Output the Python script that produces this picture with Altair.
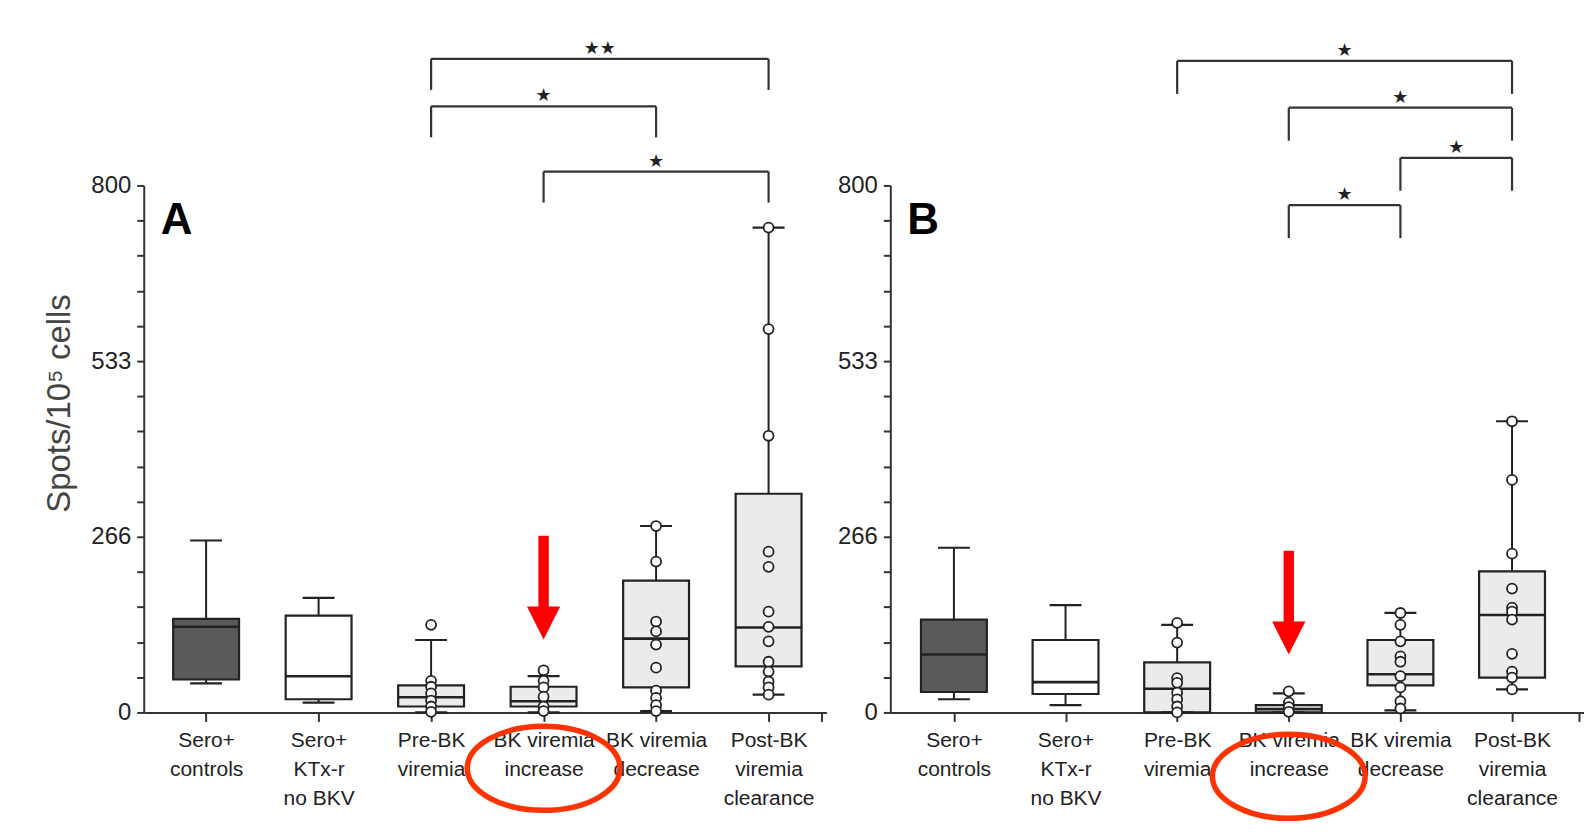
import json
import altair as alt
import pandas as pd

# ---------------- data ----------------
cat_lines = [
    ["Sero+", "controls"],
    ["Sero+", "KTx-r", "no BKV"],
    ["Pre-BK", "viremia"],
    ["BK viremia", "increase"],
    ["BK viremia", "decrease"],
    ["Post-BK", "viremia", "clearance"],
]
box_fills = ["#5a5a5a", "#ffffff", "#ebebeb", "#ebebeb", "#ebebeb", "#ebebeb"]

# Panel A (Spots/10^5 cells)
A_lo = [44, 15, 0, 0, 2, 27]
A_q1 = [50, 20, 9, 9, 38, 70]
A_med = [130, 55, 23, 17, 112, 129]
A_q3 = [142, 147, 41, 39, 200, 332]
A_hi = [261, 174, 110, 55, 283, 736]
A_points = {
    2: [133, 48, 39, 29, 18, 9, 1],
    3: [64, 48, 38, 24, 9, 2],
    4: [283, 229, 138, 123, 103, 68, 33, 22, 11, 2],
    5: [736, 582, 420, 244, 221, 153, 130, 108, 77, 62, 47, 38, 27],
}
A_brackets = [(2, 5, 992, "★★"), (2, 4, 920, "★"), (3, 5, 821, "★")]

# Panel B
B_lo = [20, 11, 0, 0, 3, 35]
B_q1 = [31, 28, 0, 0, 41, 53]
B_med = [88, 46, 36, 5, 58, 148]
B_q3 = [141, 110, 76, 11, 110, 214]
B_hi = [250, 163, 133, 29, 151, 442]
B_points = {
    2: [136, 106, 52, 45, 30, 20, 9, 0],
    3: [32, 15, 8, 1],
    4: [151, 133, 108, 85, 77, 55, 38, 17, 6],
    5: [442, 353, 241, 188, 159, 153, 141, 89, 62, 53, 35],
}
B_brackets = [(2, 5, 989, "★"), (3, 5, 918, "★"), (4, 5, 842, "★"), (3, 4, 770, "★")]

highlight = "BK viremia increase"
y_ticks = [round(k * 800 / 15, 6) for k in range(15)] + [800]

# ---------------- style ----------------
SANS = "Liberation Sans, Arial, sans-serif"
INK = "#222222"
BOX_W = 66

arrow_path = "M -0.1 -1 L 0.1 -1 L 0.1 0.365 L 0.32 0.365 L 0 1 L -0.32 0.365 L -0.1 0.365 Z"
ellipse_path = "M -1 0 A 1 0.55 0 1 1 1 0 A 1 0.55 0 1 1 -1 0 Z"

labels_js = json.dumps(cat_lines)
hl_idx = [" ".join(c) for c in cat_lines].index(highlight)


def panel(lo, q1, med, q3, hi, pts, brackets, letter, xdom, width, show_title,
          arrow_y, ellipse_y, drop):
    box_df = pd.DataFrame({
        "idx": list(range(6)), "lo": lo, "q1": q1, "med": med, "q3": q3,
        "hi": hi, "fill": box_fills,
    })
    pt_df = pd.DataFrame([{"idx": k, "v": v} for k, vs in pts.items() for v in vs])
    br_df = pd.DataFrame([{"a": a, "b": b, "level": lv, "label": lb,
                           "mid": (a + b) / 2}
                          for a, b, lv, lb in brackets])
    leg_df = pd.DataFrame([{"x": x, "top": lv, "bot": lv - drop}
                           for a, b, lv, lb in brackets for x in (a, b)])
    hl_df = pd.DataFrame({"idx": [hl_idx]})

    xscale = alt.Scale(domain=xdom, nice=False, zero=False)
    yscale = alt.Scale(domain=[0, 800], nice=False, zero=False)

    xaxis = alt.Axis(
        values=[0, 1, 2, 3, 4, 5, xdom[1]], tickCount=30,
        labelExpr=f"(datum.value == floor(datum.value) && datum.value <= 5) ? {labels_js}[datum.value] : ''",
        title=None, grid=False, tickSize=9, labelPadding=8, labelLineHeight=29,
        labelBaseline="top", labelAlign="center", labelOverlap=False,
        labelFlush=False, labelBound=False, labelFontSize=21,
    )
    yaxis_kw = dict(
        values=y_ticks, tickCount=40,
        labelExpr="(round(datum.value*15/800) % 5 == 0) ? floor(datum.value + 0.001) : ''",
        grid=False, tickSize=7, labelPadding=6, labelOverlap=False,
        labelFlush=False, labelFontSize=24,
    )
    if show_title:
        yaxis = alt.Axis(title="Spots/10⁵ cells", titlePadding=14, titleY=218, **yaxis_kw)
    else:
        yaxis = alt.Axis(title=None, **yaxis_kw)

    X = alt.X("idx:Q", scale=xscale, axis=xaxis)

    boxes = alt.Chart(box_df).mark_bar(size=BOX_W, stroke=INK, strokeWidth=2.2).encode(
        x=X,
        y=alt.Y("q1:Q", scale=yscale, axis=yaxis),
        y2="q3:Q",
        fill=alt.Fill("fill:N", scale=None),
    )
    whisk_up = alt.Chart(box_df).mark_rule(color=INK, strokeWidth=2).encode(
        x="idx:Q", y="q3:Q", y2="hi:Q")
    whisk_dn = alt.Chart(box_df).mark_rule(color=INK, strokeWidth=2).encode(
        x="idx:Q", y="lo:Q", y2="q1:Q")
    cap_up = alt.Chart(box_df).mark_tick(orient="horizontal", size=32, thickness=2.2,
                                         color=INK, opacity=1).encode(x="idx:Q", y="hi:Q")
    cap_dn = alt.Chart(box_df).mark_tick(orient="horizontal", size=32, thickness=2.2,
                                         color=INK, opacity=1).encode(x="idx:Q", y="lo:Q")
    medians = alt.Chart(box_df).mark_tick(orient="horizontal", size=BOX_W, thickness=2.6,
                                          color=INK, opacity=1).encode(x="idx:Q", y="med:Q")
    points = alt.Chart(pt_df).mark_point(shape="circle", filled=True, fill="white",
                                         stroke=INK, strokeWidth=1.8, size=100,
                                         opacity=1).encode(x="idx:Q", y="v:Q")
    br_h = alt.Chart(br_df).mark_rule(color="#333333", strokeWidth=2.2).encode(
        x="a:Q", x2="b:Q", y="level:Q")
    br_v = alt.Chart(leg_df).mark_rule(color="#333333", strokeWidth=2.2).encode(
        x="x:Q", y="top:Q", y2="bot:Q")
    stars = alt.Chart(br_df).mark_text(baseline="bottom", dy=-1, fontSize=18,
                                       font="DejaVu Sans", color=INK).encode(
        x="mid:Q", y="level:Q", text="label:N")
    letter_mark = alt.Chart(pd.DataFrame({"t": [letter]})).mark_text(
        align="left", baseline="middle", fontSize=44, fontWeight="bold",
        font=SANS, color="#000000").encode(
        x=alt.value(17), y=alt.value(36), text="t:N")
    arrow = alt.Chart(hl_df).mark_point(shape=arrow_path, filled=True, color="#ff0000",
                                        size=104 * 104, opacity=1, strokeWidth=0).encode(
        x="idx:Q", y=alt.value(arrow_y))
    ellipse = alt.Chart(hl_df).mark_point(shape=ellipse_path, filled=False,
                                          color="#ff3300", strokeWidth=5.5,
                                          size=153 * 153, opacity=1).encode(
        x="idx:Q", y=alt.value(ellipse_y))

    return alt.layer(boxes, whisk_up, whisk_dn, cap_up, cap_dn, medians, points,
                     br_h, br_v, stars, letter_mark, arrow, ellipse).properties(
        width=width, height=528)


pA = panel(A_lo, A_q1, A_med, A_q3, A_hi, A_points, A_brackets, "A",
           [-0.51, 5.47], 684, True, 403, 584, 47)
pB = panel(B_lo, B_q1, B_med, B_q3, B_hi, B_points, B_brackets, "B",
           [-0.525, 5.6], 695, False, 418, 592, 50)

chart = alt.hconcat(pA, pB, spacing=10).properties(
    padding={"left": 35, "top": 31, "right": 0, "bottom": 0},
    background="white",
).configure_view(stroke=None).configure_axis(
    labelFont=SANS, labelColor="#222222",
    domainColor="#333333", domainWidth=2, tickColor="#333333", tickWidth=2,
    titleFont=SANS, titleFontSize=33,
    titleFontWeight="normal", titleColor="#444444",
)

chart.save("out.html", embed_options={"renderer": "svg", "actions": False})
